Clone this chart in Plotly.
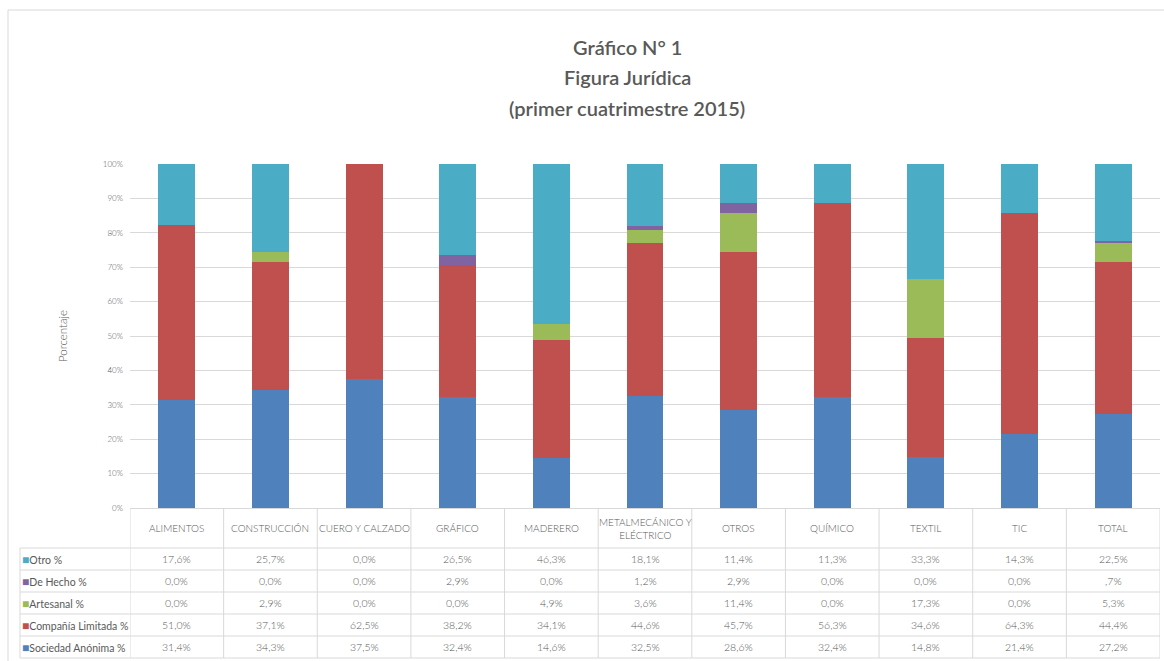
import plotly.graph_objects as go

# categories and series (percent)
categories = ["ALIMENTOS", "CONSTRUCCIÓN", "CUERO Y CALZADO", "GRÁFICO", "MADERERO",
              "METALMECÁNICO Y<br>ELÉCTRICO", "OTROS", "QUÍMICO", "TEXTIL", "TIC", "TOTAL"]

sociedad_anonima = [31.4, 34.3, 37.5, 32.4, 14.6, 32.5, 28.6, 32.4, 14.8, 21.4, 27.2]
compania_limitada = [51.0, 37.1, 62.5, 38.2, 34.1, 44.6, 45.7, 56.3, 34.6, 64.3, 44.4]
artesanal = [0.0, 2.9, 0.0, 0.0, 4.9, 3.6, 11.4, 0.0, 17.3, 0.0, 5.3]
de_hecho = [0.0, 0.0, 0.0, 2.9, 0.0, 1.2, 2.9, 0.0, 0.0, 0.0, 0.7]
otro = [17.6, 25.7, 0.0, 26.5, 46.3, 18.1, 11.4, 11.3, 33.3, 14.3, 22.5]

series = [
    ("Sociedad Anónima %", sociedad_anonima, "#4F81BD"),
    ("Compañía Limitada %", compania_limitada, "#C0504D"),
    ("Artesanal %", artesanal, "#9BBB59"),
    ("De Hecho %", de_hecho, "#8064A2"),
    ("Otro %", otro, "#4BACC6"),
]

W, H = 1164, 661
L, R, T, B = 130, 4, 164, 153
PW, PH = W - L - R, H - T - B
GRAY = "#595959"
LINE = "#d9d9d9"
FONT = "Lato"


def px(x):
    return (x - L) / PW


def py(y):
    return (H - B - y) / PH


def fmt(v):
    s = f"{v:.1f}".replace(".", ",")
    if 0 < v < 1:
        s = s[1:]
    return s + "%"


xs = list(range(len(categories)))

fig = go.Figure()
for name, vals, color in series:
    fig.add_trace(go.Bar(x=xs, y=vals, name=name, marker=dict(color=color, line=dict(width=0)),
                         width=0.395))

annotations = []
# title
for text, y in [("Gráfico N° 1", 47), ("Figura Jurídica", 77), ("(primer cuatrimestre 2015)", 108)]:
    annotations.append(dict(text=text, x=px(627), y=py(y), xref="paper", yref="paper",
                            showarrow=False, xanchor="center", yanchor="middle",
                            font=dict(family=FONT, size=20, color=GRAY, weight=600)))

# y axis title
annotations.append(dict(text="Porcentaje", x=px(62), y=py(336), xref="paper", yref="paper",
                        showarrow=False, textangle=-90, xanchor="center", yanchor="middle",
                        font=dict(family=FONT, size=11.5, color=GRAY, weight=300)))

# table header
for i, c in enumerate(categories):
    annotations.append(dict(text=c, x=i, y=py(528), xref="x", yref="paper", showarrow=False,
                            xanchor="center", yanchor="middle",
                            font=dict(family=FONT, size=10, color=GRAY, weight=300)))

# table rows (top to bottom)
row_y = [559, 581, 603, 625, 647]
for (name, vals, color), y in zip(reversed(series), row_y):
    annotations.append(dict(text=f"<span style='color:{color};font-size:12px'>■</span>{name}",
                            x=px(20), y=py(y), xref="paper", yref="paper", showarrow=False,
                            xanchor="left", yanchor="middle",
                            font=dict(family=FONT, size=10.5, color=GRAY)))
    for i, v in enumerate(vals):
        annotations.append(dict(text=fmt(v), x=i, y=py(y), xref="x", yref="paper",
                                showarrow=False, xanchor="center", yanchor="middle",
                                font=dict(family=FONT, size=10.5, color=GRAY, weight=300)))

shapes = []
# outer chart border
shapes.append(dict(type="rect", xref="paper", yref="paper", x0=px(8), x1=px(1170),
                   y0=py(10), y1=py(667), line=dict(color=LINE, width=1)))
# table horizontal lines
for y in [548, 570, 592, 614, 636, 658]:
    shapes.append(dict(type="line", xref="paper", yref="paper", x0=px(20), x1=1,
                       y0=py(y), y1=py(y), line=dict(color=LINE, width=1)))
# table vertical lines
for i in range(len(categories) + 1):
    shapes.append(dict(type="line", xref="x", yref="paper", x0=i - 0.5, x1=i - 0.5,
                       y0=0, y1=py(658), line=dict(color=LINE, width=1)))
shapes.append(dict(type="line", xref="paper", yref="paper", x0=px(20), x1=px(20),
                   y0=py(548), y1=py(658), line=dict(color=LINE, width=1)))

fig.update_layout(
    width=W, height=H,
    barmode="stack",
    showlegend=False,
    plot_bgcolor="white",
    paper_bgcolor="white",
    margin=dict(l=L, r=R, t=T, b=B),
    font=dict(family=FONT, color=GRAY),
    xaxis=dict(range=[-0.5, len(categories) - 0.5], showticklabels=False, showgrid=False,
               zeroline=False, showline=True, linecolor=LINE, linewidth=1, fixedrange=True),
    yaxis=dict(range=[0, 100], dtick=10, ticksuffix="%", showgrid=True, gridcolor=LINE,
               gridwidth=1, zeroline=False, showline=False, ticklabelstandoff=6,
               tickfont=dict(family=FONT, size=8, color=GRAY, weight=300), fixedrange=True),
    annotations=annotations,
    shapes=shapes,
)

# remove the default page margin so the figure sits at the window origin
fig.write_html("out.html", config={"displayModeBar": False},
               post_script="document.body.style.margin='0';")
